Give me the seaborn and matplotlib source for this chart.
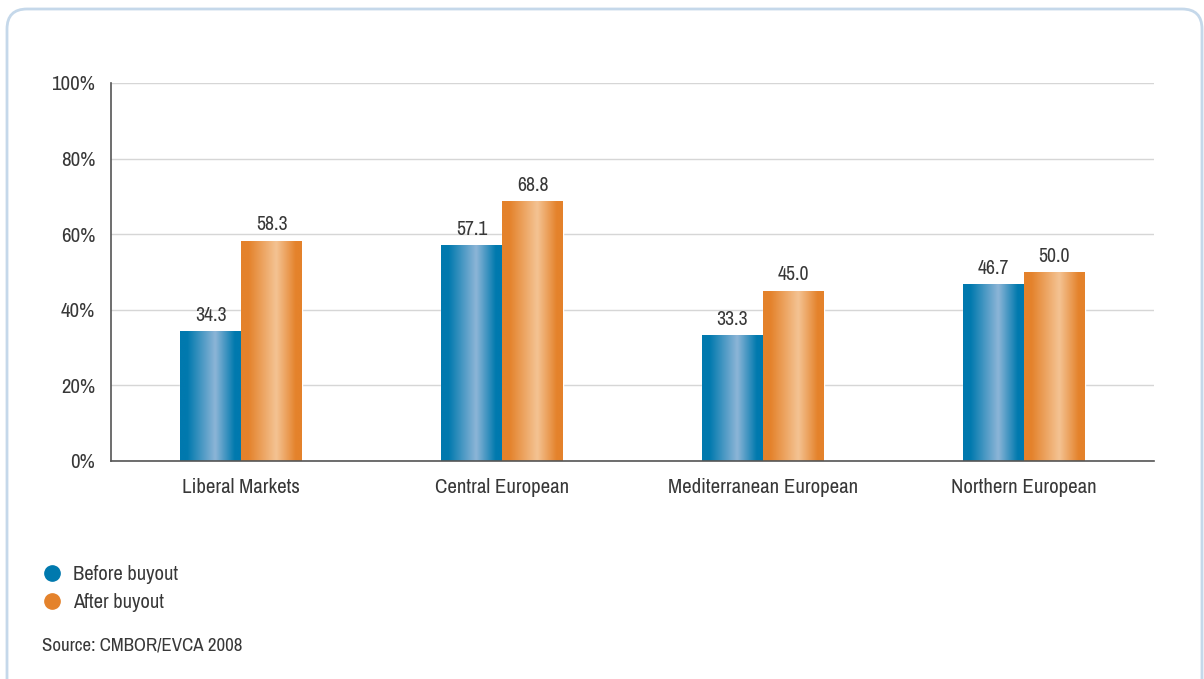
import numpy as np
import pandas as pd
import seaborn as sns
import matplotlib
matplotlib.use("Agg")
import matplotlib.pyplot as plt
from matplotlib import font_manager
from matplotlib.colors import LinearSegmentedColormap
from matplotlib.patches import FancyBboxPatch
from matplotlib.lines import Line2D

# ---- data
regions = ["Liberal Markets", "Central European", "Mediterranean European", "Northern European"]
before_buyout = [34.3, 57.1, 33.3, 46.7]
after_buyout = [58.3, 68.8, 45.0, 50.0]
series_names = ["Before buyout", "After buyout"]
y_ticks = [0, 20, 40, 60, 80, 100]
source_text = "Source: CMBOR/EVCA 2008"

df = pd.DataFrame({
    "region": regions * 2,
    "value": before_buyout + after_buyout,
    "series": [series_names[0]] * 4 + [series_names[1]] * 4,
})

sns.set_style("white")

# look for a narrow face, the original uses a condensed grotesque
fonts = font_manager.fontManager.ttflist
narrow = [f.name for f in fonts if ("Narrow" in f.name or "Condensed" in f.name)]
dv_cond = any(f.name == "DejaVu Sans" and "condensed" in str(f.stretch) for f in fonts)
if narrow:
    fam = [narrow[0], "DejaVu Sans"]
    k = 1.0
elif dv_cond:
    fam = ["DejaVu Sans"]
    plt.rcParams["font.stretch"] = "condensed"
    k = 0.9
else:
    fam = ["Liberation Sans", "DejaVu Sans"]
    k = 0.82
plt.rcParams["font.family"] = fam

fs_tick = 15 * k
fs_val = 14.2 * k
fs_leg = 14.8 * k
fs_src = 13.6 * k

blue_edge, blue_light = "#0079ae", "#8db5d7"
orange_edge, orange_light = "#e4822b", "#f4c393"
text_col = "#383838"

fig = plt.figure(figsize=(12.04, 6.79), dpi=100)

# background frame (rounded light-blue box)
bg = fig.add_axes([0, 0, 1, 1], zorder=-5)
bg.set_xlim(0, 1204)
bg.set_ylim(679, 0)
bg.axis("off")
bg.add_patch(FancyBboxPatch((7, 9), 1195, 720, boxstyle="round,pad=0,rounding_size=20",
                            fc="white", ec="#c5d8ea", lw=2))

ax = fig.add_axes([111 / 1204, 1 - 461 / 679, (1154 - 111) / 1204, (461 - 83) / 679])
ax.patch.set_alpha(0)
sns.barplot(data=df, x="region", y="value", hue="series", order=regions,
            hue_order=series_names, palette=[blue_edge, orange_edge],
            width=0.467, gap=0, ax=ax, legend=False, zorder=3)

ax.set_yticks(y_ticks)
ax.set_yticklabels([f"{t}%" for t in y_ticks])
ax.yaxis.grid(True, color="#d6d6d6", lw=1)
ax.set_axisbelow(True)
ax.set_xlabel("")
ax.set_ylabel("")
ax.tick_params(axis="both", length=0, labelsize=fs_tick, colors=text_col)
ax.tick_params(axis="y", pad=11.5)
ax.tick_params(axis="x", pad=12.5)
for s in ["top", "right"]:
    ax.spines[s].set_visible(False)
for s in ["left", "bottom"]:
    ax.spines[s].set_color("#555555")
    ax.spines[s].set_linewidth(1.2)
    ax.spines[s].set_zorder(5)

# gradient fill for the bars
def grad_cmap(edge, light):
    return LinearSegmentedColormap.from_list("g", [(0, edge), (0.12, edge), (0.58, light), (0.9, edge), (1, edge)])

cmaps = [grad_cmap(blue_edge, blue_light), grad_cmap(orange_edge, orange_light)]
grad = np.linspace(0, 1, 256).reshape(1, -1)
for i, cont in enumerate(ax.containers):
    for bar, val in zip(cont, [before_buyout, after_buyout][i]):
        x0, w, h = bar.get_x(), bar.get_width(), bar.get_height()
        im = ax.imshow(grad, cmap=cmaps[i], aspect="auto", extent=[x0, x0 + w, 0, h],
                       zorder=3, interpolation="bicubic")
        im.set_clip_path(bar)
        bar.set_facecolor("none")
        ax.text(x0 + w / 2, h + 1.7, f"{val:.1f}", ha="center", va="bottom",
                fontsize=fs_val, color=text_col)
ax.set_xlim(-0.5, 3.5)
ax.set_ylim(0, 100)

# legend and source, placed like the original
handles = [Line2D([], [], marker="o", ls="", ms=11, color=c) for c in [blue_edge, orange_edge]]
fig.legend(handles, series_names, loc="upper left", bbox_to_anchor=(40 / 1204, 1 - 565 / 679),
           frameon=False, fontsize=fs_leg, handletextpad=0.4, labelspacing=0.45,
           labelcolor=text_col, handlelength=1.2, borderaxespad=0, borderpad=0)
fig.text(42 / 1204, 1 - 645 / 679, source_text, fontsize=fs_src, color=text_col, va="center")

fig.savefig("out.png", dpi=100)
